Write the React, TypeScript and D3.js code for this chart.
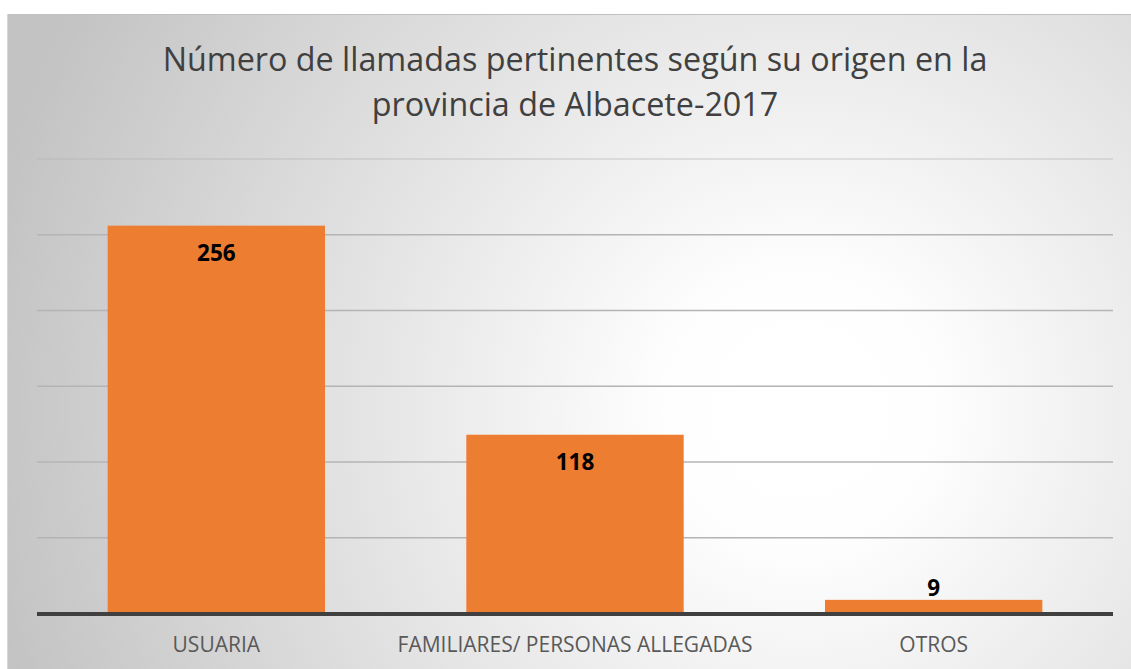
import React, { useEffect, useRef } from 'react'
import * as d3 from 'd3'

const categories = ['USUARIA', 'FAMILIARES/ PERSONAS ALLEGADAS', 'OTROS']
const values = [256, 118, 9]
const gridTicks = [0, 50, 100, 150, 200, 250, 300]
const titleLines = ['Número de llamadas pertinentes según su origen en la', 'provincia de Albacete-2017']

const W = 1131
const H = 669

export default function App() {
    const ref = useRef<SVGSVGElement>(null)

    useEffect(() => {
        const svg = d3.select(ref.current)
        svg.selectAll('*').remove()

        const defs = svg.append('defs')
        const grad = defs.append('radialGradient')
            .attr('id', 'bg')
            .attr('gradientUnits', 'userSpaceOnUse')
            .attr('cx', 800).attr('cy', 410).attr('r', 830)
        grad.append('stop').attr('offset', '0%').attr('stop-color', '#ffffff')
        grad.append('stop').attr('offset', '16%').attr('stop-color', '#fefefe')
        grad.append('stop').attr('offset', '100%').attr('stop-color', '#c3c3c3')

        // chart frame
        svg.append('rect')
            .attr('x', 7).attr('y', 14)
            .attr('width', W - 7).attr('height', H - 14)
            .attr('fill', 'url(#bg)')
        svg.append('line')
            .attr('x1', 7).attr('x2', W).attr('y1', 14.5).attr('y2', 14.5)
            .attr('stroke', '#c0c0c0').attr('stroke-width', 1)
        svg.append('line')
            .attr('x1', 7.5).attr('x2', 7.5).attr('y1', 14).attr('y2', H)
            .attr('stroke', '#d8d8d8').attr('stroke-width', 1)

        const left = 37
        const right = 1113

        const x = d3.scaleBand<string>()
            .domain(categories)
            .range([left, right])
            .paddingInner(0.394)
            .paddingOuter(0.197)

        const y = d3.scaleLinear()
            .domain([0, 300])
            .range([613.5, 159])

        // gridlines
        svg.append('g')
            .selectAll('line')
            .data(gridTicks.filter(t => t > 0))
            .join('line')
            .attr('x1', left).attr('x2', right)
            .attr('y1', d => y(d)).attr('y2', d => y(d))
            .attr('stroke', '#b4b4b4')
            .attr('stroke-opacity', d => (d === 300 ? 0.45 : 1))
            .attr('stroke-width', 1.5)

        // bars
        svg.append('g')
            .selectAll('rect')
            .data(values)
            .join('rect')
            .attr('x', (d, i) => x(categories[i])!)
            .attr('y', d => y(d))
            .attr('width', x.bandwidth())
            .attr('height', d => y(0) - y(d))
            .attr('fill', '#ed7d31')

        // baseline
        svg.append('line')
            .attr('x1', left).attr('x2', right)
            .attr('y1', y(0) + 0.5).attr('y2', y(0) + 0.5)
            .attr('stroke', '#404040').attr('stroke-width', 4)

        // data labels
        svg.append('g')
            .selectAll('text')
            .data(values)
            .join('text')
            .attr('x', (d, i) => x(categories[i])! + x.bandwidth() / 2)
            .attr('y', d => (y(0) - y(d) > 50 ? y(d) + 35 : y(d) - 4))
            .attr('text-anchor', 'middle')
            .attr('font-family', 'Open Sans, sans-serif')
            .attr('font-weight', 'bold')
            .attr('font-size', 22.5)
            .attr('fill', '#000000')
            .text(d => String(d))

        // category labels
        svg.append('g')
            .selectAll('text')
            .data(categories)
            .join('text')
            .attr('x', d => x(d)! + x.bandwidth() / 2)
            .attr('y', 652)
            .attr('text-anchor', 'middle')
            .attr('font-family', 'Open Sans, sans-serif')
            .attr('font-size', 21)
            .attr('fill', '#595959')
            .text(d => d)

        // title
        svg.append('g')
            .selectAll('text')
            .data(titleLines)
            .join('text')
            .attr('x', 575)
            .attr('y', (d, i) => 71 + i * 45)
            .attr('text-anchor', 'middle')
            .attr('font-family', 'Open Sans, sans-serif')
            .attr('font-size', 32.3)
            .attr('fill', '#404040')
            .text(d => d)
    }, [])

    return (
        <svg
            ref={ref}
            width={W}
            height={H}
            style={{ position: 'absolute', left: 0, top: 0, background: '#ffffff' }}
        />
    )
}
